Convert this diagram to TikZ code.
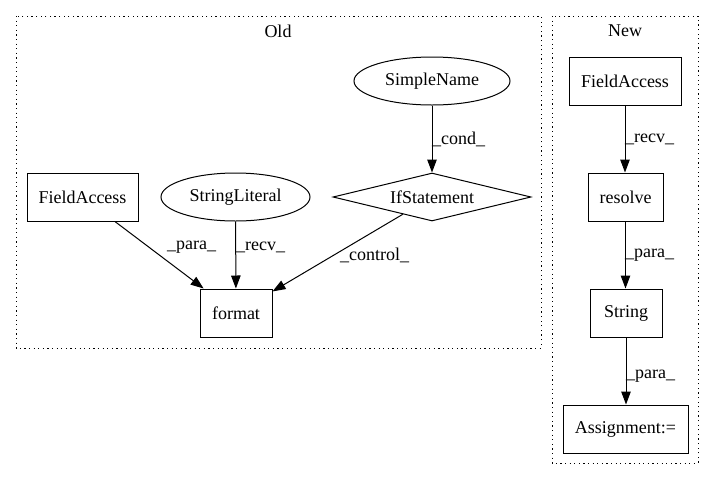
\documentclass[tikz,border=0pt]{standalone}
\usepackage{fontspec}
\setmainfont{Liberation Serif}
\usetikzlibrary{shapes.geometric,arrows.meta}
\begin{document}
\begin{tikzpicture}[x=1pt,y=-1pt,
  every node/.style={font=\fontsize{18}{21}\selectfont},
  box/.style={draw,rectangle,inner sep=0,line width=1pt},
  oval/.style={draw,ellipse,inner sep=0,line width=1pt},
  dia/.style={draw,diamond,inner sep=0,aspect=4,line width=1pt},
  cluster/.style={draw,line width=1pt,dash pattern=on 1.2pt off 3.4pt},
  edge/.style={draw,line width=1pt,-{Triangle[length=13pt,width=9.5pt]}},
  elabel/.style={anchor=west,inner sep=0}]
\useasboundingbox (0,0) rectangle (715,480);
% clusters
\draw[cluster] (16,16) rectangle (541,348);
\draw[cluster] (552,16) rectangle (698,463);
\node (oldlbl) at (278,31) {Old};
\node (newlbl) at (625,31) {New};
% Old
\node[box,minimum width=111,minimum height=48] (fa1) at (82.5,197) {FieldAccess};
\node[oval,minimum width=149,minimum height=48] (sl) at (235.5,197) {StringLiteral};
\node[box,minimum width=72,minimum height=48] (fmt) at (236,313) {format};
\node[oval,minimum width=156,minimum height=48] (sn) at (432,81) {SimpleName};
\node[dia,minimum width=198,minimum height=48] (ifs) at (432,197) {IfStatement};
\draw[edge] (fa1) -- (fmt);
\draw[edge] (sl) -- (fmt);
\draw[edge] (ifs) -- (fmt);
\draw[edge] (sn) -- (ifs);
\node[elabel] (l1) at (167,247) {\_para\_};
\node[elabel] (l2) at (236,247) {\_recv\_};
\node[elabel] (l3) at (340,255) {\_control\_};
\node[elabel] (l4) at (432,139) {\_cond\_};
% New
\node[box,minimum width=112,minimum height=48] (fa2) at (625,81) {FieldAccess};
\node[box,minimum width=75,minimum height=48] (res) at (625.5,197) {resolve};
\node[box,minimum width=72,minimum height=48] (str) at (626,313) {String};
\node[box,minimum width=125,minimum height=48] (asg) at (625.5,429) {Assignment:=};
\draw[edge] (fa2) -- (fa2 |- res.north);
\draw[edge] (res) -- (res |- str.north);
\draw[edge] (str) -- (str |- asg.north);
\node[elabel] (l5) at (625,139) {\_recv\_};
\node[elabel] (l6) at (625,255) {\_para\_};
\node[elabel] (l7) at (626,376) {\_para\_};
\end{tikzpicture}
\end{document}
